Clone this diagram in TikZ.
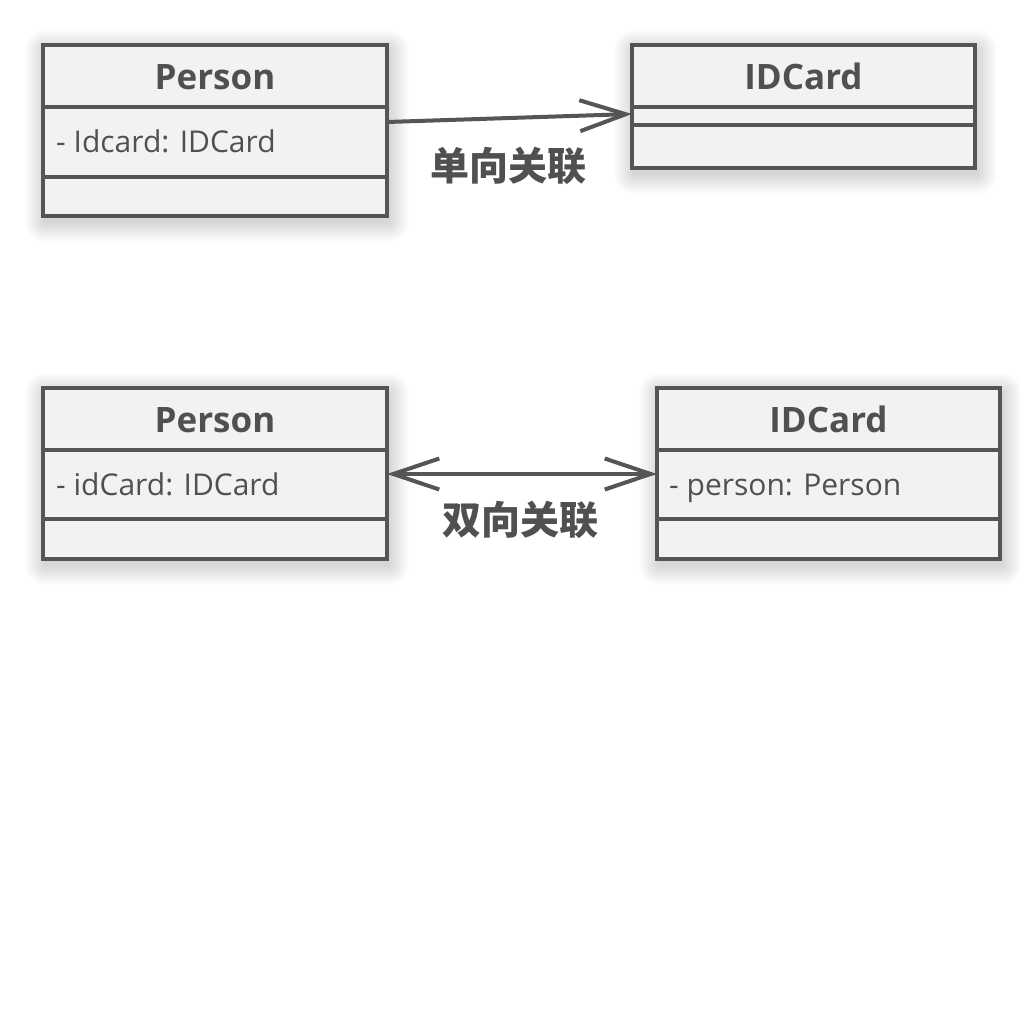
\documentclass[tikz,border=0pt]{standalone}
\usepackage{fontspec}
\setmainfont{Open Sans}
\newfontfamily\cjk{Noto Sans CJK SC}
\usetikzlibrary{arrows.meta}
\definecolor{linec}{HTML}{555555}
\definecolor{boxfill}{HTML}{F2F2F2}
\definecolor{txt}{HTML}{505050}
\newcommand\myshadow[4]{%
  \foreach \i in {1,...,20}{%
    \fill[black,opacity=0.009,rounded corners=\i pt] (#1-\i+2,#2-\i+5) rectangle (#3+\i+2,#4+\i+6);
  }}
\begin{document}
\begin{tikzpicture}[x=1pt,y=-1pt,
  classbox/.style={draw=linec, fill=boxfill, line width=4pt, rectangle, anchor=north west, inner sep=0pt, outer sep=0pt},
  title/.style={anchor=base, inner sep=0pt, text=txt, font=\bfseries\fontsize{35}{40}\selectfont},
  attr/.style={anchor=base west, inner sep=0pt, text=txt, font=\fontsize{30}{36}\selectfont},
  divider/.style={draw=linec, line width=4pt},
  barb/.tip={Straight Barb[length=46pt,width=31pt]},
  assoc/.style={draw=linec, line width=4pt, -barb},
  lbl/.style={text=txt, font=\cjk\bfseries\fontsize{39}{44}\selectfont, inner sep=0pt}]
\useasboundingbox[fill=white] (0,0) rectangle (1020,1020);

% shadows
\myshadow{43}{45}{387}{216}
\myshadow{632}{45}{975}{168}
\myshadow{43}{388}{387}{559}
\myshadow{657}{388}{1000}{559}

% unidirectional
\node[classbox, minimum width=344pt, minimum height=171pt] (p1) at (43,45) {};
\draw[divider] ([yshift=-62pt]p1.north west) -- ([yshift=-62pt]p1.north east);
\draw[divider] ([yshift=-132pt]p1.north west) -- ([yshift=-132pt]p1.north east);
\node[title] (p1t) at ([yshift=-44pt]p1.north) {Person};
\node[attr] (p1a) at ([xshift=13pt,yshift=-107pt]p1.north west) {- Idcard: IDCard};

\node[classbox, minimum width=343pt, minimum height=123pt] (c1) at (632,45) {};
\draw[divider] ([yshift=-62pt]c1.north west) -- ([yshift=-62pt]c1.north east);
\draw[divider] ([yshift=-80pt]c1.north west) -- ([yshift=-80pt]c1.north east);
\node[title] (c1t) at ([yshift=-44pt]c1.north) {IDCard};

\draw[assoc] ([yshift=-77pt]p1.north east) -- ([yshift=-69pt]c1.north west);
\node[lbl] (l1) at (508,166) {单向关联};

% bidirectional
\node[classbox, minimum width=344pt, minimum height=171pt] (p2) at (43,388) {};
\draw[divider] ([yshift=-62pt]p2.north west) -- ([yshift=-62pt]p2.north east);
\draw[divider] ([yshift=-131pt]p2.north west) -- ([yshift=-131pt]p2.north east);
\node[title] (p2t) at ([yshift=-44pt]p2.north) {Person};
\node[attr] (p2a) at ([xshift=13pt,yshift=-107pt]p2.north west) {- idCard: IDCard};

\node[classbox, minimum width=343pt, minimum height=171pt] (c2) at (657,388) {};
\draw[divider] ([yshift=-62pt]c2.north west) -- ([yshift=-62pt]c2.north east);
\draw[divider] ([yshift=-131pt]c2.north west) -- ([yshift=-131pt]c2.north east);
\node[title] (c2t) at ([yshift=-44pt]c2.north) {IDCard};
\node[attr] (c2a) at ([xshift=12pt,yshift=-107pt]c2.north west) {- person: Person};

\draw[assoc, barb-barb] ([yshift=-86pt]p2.north east) -- ([yshift=-86pt]c2.north west);
\node[lbl] (l2) at (520,520) {双向关联};
\end{tikzpicture}
\end{document}
